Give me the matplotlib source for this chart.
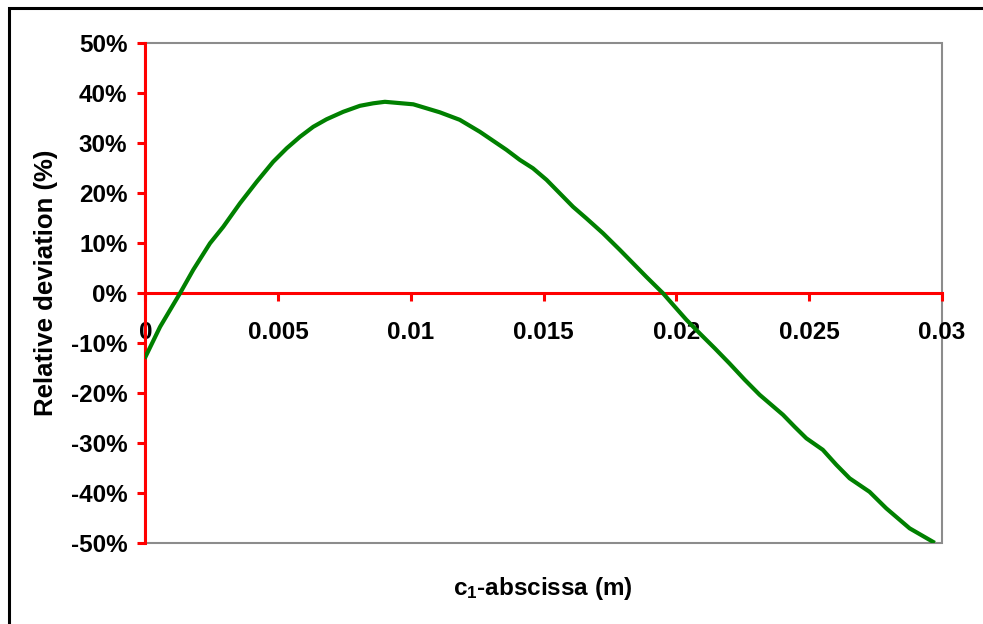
import matplotlib
matplotlib.use("Agg")
import matplotlib.pyplot as plt
from matplotlib.patches import Rectangle
from matplotlib.ticker import FuncFormatter

plt.rcParams['font.family'] = ['Liberation Sans', 'DejaVu Sans']
plt.rcParams['mathtext.fontset'] = 'custom'
plt.rcParams['mathtext.bf'] = 'Liberation Sans:bold'
plt.rcParams['mathtext.rm'] = 'Liberation Sans:bold'
plt.rcParams['mathtext.default'] = 'bf'

# c1 abscissa (m) and relative deviation (%)
abscissa = [0.0, 0.00055, 0.0013, 0.0018, 0.00243, 0.00293, 0.00356, 0.00419,
            0.00481, 0.00532, 0.00582, 0.00632, 0.00682, 0.00745, 0.00808, 0.00858,
            0.00902, 0.01009, 0.01109, 0.01184, 0.0126, 0.0136, 0.0141, 0.0146,
            0.01511, 0.01561, 0.01611, 0.01661, 0.01724, 0.01787, 0.01837, 0.01887,
            0.0195, 0.01988, 0.02038, 0.02088, 0.02145, 0.022, 0.02258, 0.02314,
            0.02402, 0.02446, 0.0249, 0.02552, 0.02603, 0.02653, 0.02728, 0.02791,
            0.02835, 0.02879, 0.02967]
deviation = [-12.7, -6.7, 0.0, 4.7, 10.0, 13.3, 18.0, 22.3,
             26.3, 29.0, 31.3, 33.3, 34.8, 36.3, 37.5, 38.0,
             38.3, 37.8, 36.2, 34.7, 32.3, 28.7, 26.7, 25.0,
             22.7, 20.0, 17.3, 15.0, 12.0, 8.7, 6.0, 3.3,
             0.0, -2.3, -5.3, -8.0, -11.0, -14.0, -17.3, -20.3,
             -24.3, -26.7, -29.0, -31.3, -34.3, -37.0, -39.7, -43.0,
             -45.0, -47.0, -49.7]

x_ticks = [0, 0.005, 0.01, 0.015, 0.02, 0.025, 0.03]
x_labels = ['0', '0.005', '0.01', '0.015', '0.02', '0.025', '0.03']
y_ticks = [-50, -40, -30, -20, -10, 0, 10, 20, 30, 40, 50]

fig = plt.figure(figsize=(9.83, 6.24), dpi=100)
ax = fig.add_axes([0.148, 0.1293, 0.81, 0.8013])

# outer black border (only top and left visible in the reference)
fig.patches.append(Rectangle((8.5 / 983, -0.1), 1.2, 1.1 - 7.5 / 624, transform=fig.transFigure,
                             fill=False, edgecolor='black', linewidth=2.2))

# grey plot frame
ax.add_patch(Rectangle((0, 0), 1, 1, transform=ax.transAxes, fill=False,
                       edgecolor='#8c8c8c', linewidth=1.5, zorder=1, clip_on=False))

ax.plot(abscissa, deviation, color='#008000', linewidth=3.0, zorder=3)

ax.set_xlim(0, 0.03)
ax.set_ylim(-50, 50)

for s in ['top', 'right']:
    ax.spines[s].set_visible(False)
ax.spines['left'].set_color('red')
ax.spines['left'].set_linewidth(2.2)
ax.spines['bottom'].set_position(('data', 0))
ax.spines['bottom'].set_color('red')
ax.spines['bottom'].set_linewidth(2.2)
ax.spines['left'].set_zorder(2)
ax.spines['bottom'].set_zorder(2)

ax.set_xticks(x_ticks)
ax.set_xticklabels(x_labels)
ax.set_yticks(y_ticks)
ax.yaxis.set_major_formatter(FuncFormatter(lambda v, p: '%d%%' % v))

ax.tick_params(axis='both', colors='red', direction='out', length=6, width=2.2,
               labelcolor='black', labelsize=17.5)
ax.tick_params(axis='x', pad=14)
ax.tick_params(axis='y', pad=7)
for lab in ax.get_xticklabels() + ax.get_yticklabels():
    lab.set_fontweight('bold')

fig.text(46 / 983, 1 - 283 / 624, 'Relative deviation (%)', rotation=90,
         ha='center', va='center', fontsize=18.5, fontweight='bold')
fig.text(543 / 983, 1 - 588 / 624, r'c$_1$-abscissa (m)', ha='center', va='center',
         fontsize=17.5, fontweight='bold')

fig.savefig('out.png', dpi=100)
